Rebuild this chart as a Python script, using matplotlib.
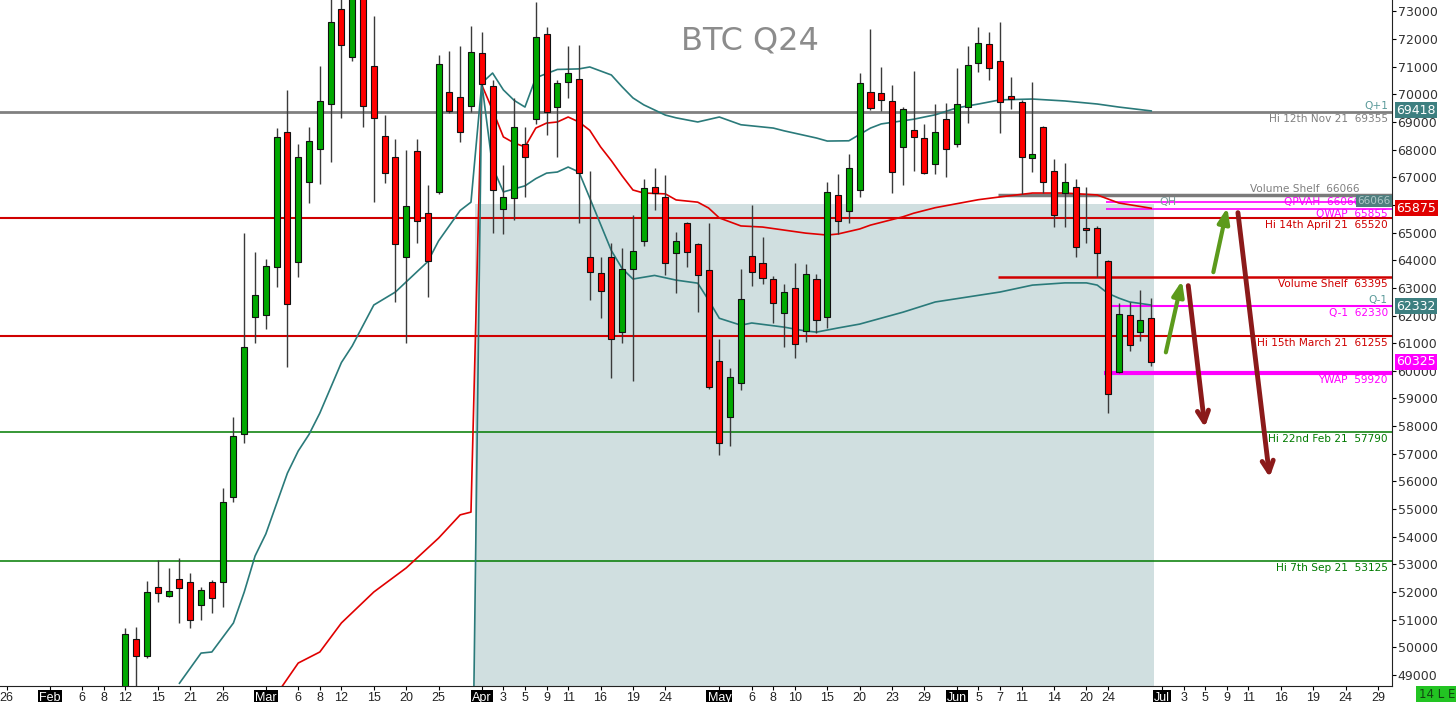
import matplotlib.pyplot as plt
import matplotlib.transforms as mtransforms
import pandas as pd

# trading calendar (weekdays without past US market holidays)
holidays = ['2024-02-19', '2024-03-29', '2024-05-27', '2024-06-19']
days = pd.bdate_range('2024-01-26', '2024-08-05')
days = days[~days.isin(pd.to_datetime(holidays))]

# daily candles, Feb 12 .. Jun 28
candle_dates = days[(days >= '2024-02-12') & (days <= '2024-06-28')]
opens = [48300, 50290, 49680, 52190, 51860, 52460, 52350, 51530, 52350, 52350,
         55450, 57700, 61960, 62020, 63770, 68650, 63930, 66840, 68010, 69650,
         73080, 71360, 73600, 71030, 68490, 67740, 64130, 67960, 65700, 66480,
         70070, 69890, 69580, 71510, 70310, 65840, 66240, 68200, 69100, 72170,
         69530, 70460, 70540, 64110, 63550, 64110, 61410, 63670, 64710, 66660,
         66300, 64250, 65360, 64590, 63650, 60360, 58340, 59570, 64150, 63890,
         63310, 62100, 62980, 61450, 63310, 61940, 66360, 65790, 66540, 70070,
         70040, 69770, 68080, 68710, 68410, 67480, 69110, 68190, 69530, 71120,
         71810, 71220, 69950, 69730, 67690, 68830, 67240, 66420, 66660, 65150,
         65150, 63980, 59970, 62020, 61410, 61920]
highs = [50700, 50740, 52410, 53160, 52880, 53220, 52700, 52190, 52430, 55750,
         58320, 64970, 64310, 64040, 68770, 70160, 68190, 68810, 71030, 73600,
         73450, 73900, 74000, 72840, 69250, 68370, 67990, 68390, 66720, 71420,
         71580, 71750, 72480, 72240, 70520, 67440, 69860, 68830, 73350, 72450,
         70520, 71750, 71780, 67240, 64130, 64630, 64430, 65640, 66930, 67330,
         67080, 65030, 65380, 64620, 65360, 61140, 60090, 63670, 66000, 64830,
         63430, 63140, 63890, 63850, 63490, 66840, 67120, 67850, 70780, 72350,
         71000, 70340, 69550, 70840, 68930, 69650, 69700, 70940, 71750, 72450,
         72240, 72630, 70620, 69800, 70460, 68860, 67650, 67510, 66930, 66640,
         65240, 64010, 62460, 62500, 62920, 62620]
lows = [48000, 48400, 49600, 51650, 51830, 50870, 50690, 50990, 51250, 51470,
        55270, 57380, 61000, 61500, 63040, 60150, 63400, 66080, 66760, 67560,
        69130, 71210, 68810, 66120, 66800, 62500, 61020, 64630, 62680, 66400,
        69340, 68290, 69370, 70300, 65000, 64940, 65460, 66300, 68930, 68530,
        67740, 69860, 65360, 62560, 61900, 59730, 61020, 59640, 64510, 65820,
        63470, 62800, 63770, 62140, 59330, 56950, 57280, 59310, 63070, 63140,
        61720, 60870, 60450, 61050, 61380, 61540, 64950, 65360, 66300, 69430,
        69410, 66420, 66720, 67240, 67120, 67120, 67020, 68080, 68950, 70820,
        70520, 68590, 69470, 66400, 67200, 66440, 65210, 65190, 64110, 64610,
        63400, 58470, 59920, 60730, 61090, 60190]
closes = [50480, 49690, 52010, 51950, 52040, 52130, 50990, 52070, 51790, 55270,
          57640, 60870, 62740, 63800, 68470, 62420, 67740, 68320, 69770, 72630,
          71770, 73550, 69580, 69130, 67170, 64590, 65960, 65420, 63980, 71090,
          69410, 68630, 71520, 70360, 66540, 66280, 68810, 67740, 72090, 69370,
          70400, 70780, 67140, 63560, 62900, 61140, 63670, 64340, 66600, 66440,
          63890, 64710, 64290, 63470, 59400, 57380, 59770, 62590, 63590, 63350,
          62460, 62840, 60960, 63490, 61840, 66460, 65430, 67350, 70420, 69500,
          69800, 67200, 69460, 68450, 67140, 68650, 68020, 69640, 71060, 71850,
          70940, 69730, 69830, 67720, 67840, 66840, 65640, 66840, 64470, 65090,
          64250, 59160, 62060, 60930, 61840, 60330]

# quarterly VWAP (red) and bands (teal), by bar number
qwap_bar = [25, 27, 29, 31, 34, 37, 40, 42, 43, 44, 45, 46, 47, 48, 49, 50, 51, 52, 53,
            54, 55, 56, 57, 58, 59, 61, 62, 64, 65, 66, 68, 70, 72, 74, 76, 77, 79, 80,
            83, 84, 86, 90, 92, 95, 98, 101, 103, 106]
qwap_val = [48300, 49430, 49830, 50880, 52000, 52870, 53950, 54790, 54890, 70340,
            69430, 68460, 68240, 68100, 68780, 68960, 69000, 69180, 69000, 68700,
            68100, 67600, 67050, 66540, 66430, 66400, 66180, 66100, 65890, 65530,
            65240, 65200, 65090, 64980, 64910, 64950, 65130, 65270, 65570, 65700,
            65900, 66190, 66290, 66430, 66430, 66360, 66070, 65880]
upper_bar = [16, 18, 19, 21, 22, 23, 24, 26, 27, 28, 29, 31, 32, 34, 36, 39, 40, 42, 43,
             44, 45, 46, 47, 48, 49, 51, 53, 54, 56, 57, 58, 59, 61, 62, 64, 66, 68, 71,
             72, 75, 76, 78, 80, 81, 84, 86, 88, 90, 92, 95, 98, 101, 103, 106]
upper_val = [48700, 49790, 49830, 50880, 52000, 53300, 54100, 56300, 57100, 57700,
             58470, 60300, 60900, 62380, 62850, 63950, 64700, 65800, 66100, 70410,
             70770, 70160, 69780, 69540, 70600, 70900, 70920, 70990, 70700, 70270,
             69870, 69620, 69250, 69150, 69000, 69180, 68900, 68780, 68680, 68420,
             68310, 68320, 68780, 68930, 69100, 69260, 69510, 69650, 69800, 69830,
             69760, 69650, 69540, 69400]
lower_bar = [43, 44, 45, 46, 47, 48, 49, 50, 51, 52, 53, 54, 55, 56, 57, 58, 60, 62, 64,
             65, 66, 68, 69, 72, 74, 75, 77, 79, 83, 86, 89, 92, 95, 98, 100, 101, 102,
             103, 104, 106]
lower_val = [40400, 70410, 67370, 66470, 66580, 66690, 66950, 67150, 67190, 67370,
             67190, 66250, 65300, 64350, 63700, 63320, 63450, 63280, 63170, 62560,
             61900, 61650, 61730, 61580, 61440, 61400, 61550, 61690, 62120, 62490,
             62670, 62850, 63100, 63180, 63180, 63100, 62800, 62630, 62490, 62380]

# horizontal reference levels
full_levels = [69355, 65520, 61255, 57790, 53125]
full_labels = ['Hi 12th Nov 21  69355', 'Hi 14th April 21  65520', 'Hi 15th March 21  61255',
               'Hi 22nd Feb 21  57790', 'Hi 7th Sep 21  53125']
full_colors = ['#808080', '#d00000', '#d00000', '#007a00', '#007a00']

# scenario arrows: (start bar, start price, end bar, end price)
up_arrows = [(107.3, 60570, 108.9, 63360), (111.7, 63470, 113.1, 66000)]
down_arrows = [(109.4, 63180, 111.0, 57860), (114.0, 65820, 117.0, 56050)]

tick_dates = ['2024-01-26', '2024-02-01', '2024-02-06', '2024-02-08', '2024-02-12', '2024-02-15',
              '2024-02-21', '2024-02-26', '2024-03-01', '2024-03-06', '2024-03-08', '2024-03-12',
              '2024-03-15', '2024-03-20', '2024-03-25', '2024-04-01', '2024-04-03', '2024-04-05',
              '2024-04-09', '2024-04-11', '2024-04-16', '2024-04-19', '2024-04-24', '2024-05-01',
              '2024-05-06', '2024-05-08', '2024-05-10', '2024-05-15', '2024-05-20', '2024-05-23',
              '2024-05-29', '2024-06-03', '2024-06-05', '2024-06-07', '2024-06-11', '2024-06-14',
              '2024-06-20', '2024-06-24', '2024-07-01', '2024-07-03', '2024-07-05', '2024-07-09',
              '2024-07-11', '2024-07-16', '2024-07-19', '2024-07-24', '2024-07-29']


def bar(d):
    return days.get_loc(pd.Timestamp(d))


fig = plt.figure(figsize=(14.56, 7.02), dpi=100)
ax = fig.add_axes([0, 16 / 702, 1392 / 1456, 686 / 702])
ax.set_xlim(-0.62, 128.3)
ax.set_ylim(48600, 73412)

# quarter box
ax.fill_between([bar('2024-04-01') - 0.64, bar('2024-06-28') + 0.3], 40000, 66040,
                color='#d0dfe0', lw=0, zorder=0)

for lvl, col in zip(full_levels, full_colors):
    ax.axhline(lvl, color=col, lw=2 if col == '#808080' else (1.5 if col == '#d00000' else 1.1), zorder=1)

blend = mtransforms.blended_transform_factory(ax.transAxes, ax.transData)
xr = 128.3
ax.hlines(66360, 91.8, xr, color='#7a7a7a', lw=2.5, zorder=1)
ax.hlines(63395, 91.8, xr, color='#d00000', lw=1.8, zorder=1)
ax.hlines([66106, 65870], 101.8, xr, color='#ff00ff', lw=1.2, zorder=1)
ax.hlines(62330, 101.8, xr, color='#ff00ff', lw=1.5, zorder=1)
ax.hlines(59920, 101.6, xr, color='#ff00ff', lw=3, zorder=1)

# indicator lines
ax.plot(qwap_bar, qwap_val, color='#e00000', lw=1.2, zorder=2)
ax.plot(upper_bar, upper_val, color='#2a7a7a', lw=1.2, zorder=2)
ax.plot(lower_bar, lower_val, color='#2a7a7a', lw=1.2, zorder=2)

# candles
pos = days.get_indexer(candle_dates)
body_lo = [min(o, c) for o, c in zip(opens, closes)]
body_h = [max(abs(c - o), 40) for o, c in zip(opens, closes)]
cols = ['#00a800' if c >= o else '#ff0000' for o, c in zip(opens, closes)]
ax.vlines(pos, lows, highs, color='#3a3a3a', lw=1, zorder=3)
ax.bar(pos, body_h, bottom=body_lo, width=0.56, color=cols, edgecolor='#111111', lw=0.8, zorder=4)

# level labels
lab_kw = dict(transform=blend, ha='right', va='top', fontsize=7.6, zorder=6)
for lvl, txt, col in zip(full_levels, full_labels, full_colors):
    ax.text(0.997, lvl - 60, txt, color=col, **lab_kw)
ax.text(0.977, 66360 + 40, 'Volume Shelf  66066', color='#808080', transform=blend, ha='right',
        va='bottom', fontsize=7.6, zorder=6)
ax.text(0.977, 66300, 'QPVAH  66066', color='#ff00ff', transform=blend, ha='right', va='top',
        fontsize=7.6, zorder=6)
ax.text(0.997, 65870 - 30, 'QWAP  65855', color='#ff00ff', **lab_kw)
ax.text(0.997, 63395 - 60, 'Volume Shelf  63395', color='#d00000', **lab_kw)
ax.text(0.997, 62330 - 60, 'Q-1  62330', color='#ff00ff', **lab_kw)
ax.text(0.997, 59920 - 60, 'YWAP  59920', color='#ff00ff', **lab_kw)
ax.text(0.997, 69355 + 50, 'Q+1', color='#5a9a9a', transform=blend, ha='right', va='bottom', fontsize=7.6)
ax.text(0.997, 62330 + 50, 'Q-1', color='#5a9a9a', transform=blend, ha='right', va='bottom', fontsize=7.6)
ax.text(0.999, 66150, '66066', color='#b0c8c8', transform=blend, ha='right', va='center', fontsize=7.6,
        bbox=dict(boxstyle='square,pad=0.12', fc='#4f7f7f', ec='none'), zorder=7)
ax.text(bar('2024-07-01') - 0.2, 66120, 'QH', color='#7a9a9a', fontsize=8, va='center')

# arrows
for b0, p0, b1, p1 in up_arrows:
    ax.annotate('', xy=(b1, p1), xytext=(b0, p0),
                arrowprops=dict(arrowstyle='-|>,head_length=0.9,head_width=0.35', color='#5c9a1c', lw=3),
                zorder=5)
for b0, p0, b1, p1 in down_arrows:
    ax.annotate('', xy=(b1, p1), xytext=(b0, p0),
                arrowprops=dict(arrowstyle='->,head_length=0.8,head_width=0.4', color='#8b1a1a', lw=3.5),
                zorder=5)

ax.text(0.539, 0.94, 'BTC Q24', color='#8c8c8c', fontsize=23, ha='center', va='center', transform=ax.transAxes)

# axes styling
for s in ['left', 'top']:
    ax.spines[s].set_visible(False)
ax.spines['right'].set_color('#222222')
ax.spines['bottom'].set_color('#222222')
ax.yaxis.tick_right()
ax.set_yticks(range(49000, 74000, 1000))
ax.tick_params(axis='y', direction='out', length=3, labelsize=9, labelcolor='#333333', pad=1)

tick_pos = [bar(d) for d in tick_dates]
tick_lab = []
prev_month = None
for d in tick_dates:
    t = pd.Timestamp(d)
    tick_lab.append(t.strftime('%b') if prev_month is not None and t.month != prev_month else str(t.day))
    prev_month = t.month
ax.set_xticks(tick_pos)
ax.set_xticklabels(tick_lab, fontfamily=['Liberation Sans Narrow', 'Liberation Sans'])
ax.tick_params(axis='x', direction='out', length=3, labelsize=9, labelcolor='#222222', pad=1)
for lab in ax.get_xticklabels():
    if lab.get_text().isalpha():
        lab.set_color('white')
        lab.set_bbox(dict(boxstyle='square,pad=0.1', fc='black', ec='none'))

# value boxes on the price axis
boxes = [(69418, '#3d7f80'), (65875, '#e00000'), (62332, '#3d7f80'), (60325, '#ff00ff')]
for v, c in boxes:
    ax.text(1.003, v, str(v), transform=blend, color='white', fontsize=9, va='center', ha='left',
            bbox=dict(boxstyle='square,pad=0.12', fc=c, ec='none'), clip_on=False, zorder=8)

fig.text(1437 / 1456, 1 - 695 / 702, '14 L E', ha='center', va='center', fontsize=8.5, color='#114411',
         bbox=dict(boxstyle='square,pad=0.2', fc='#22c422', ec='none'))

fig.savefig('out.png', dpi=100)
